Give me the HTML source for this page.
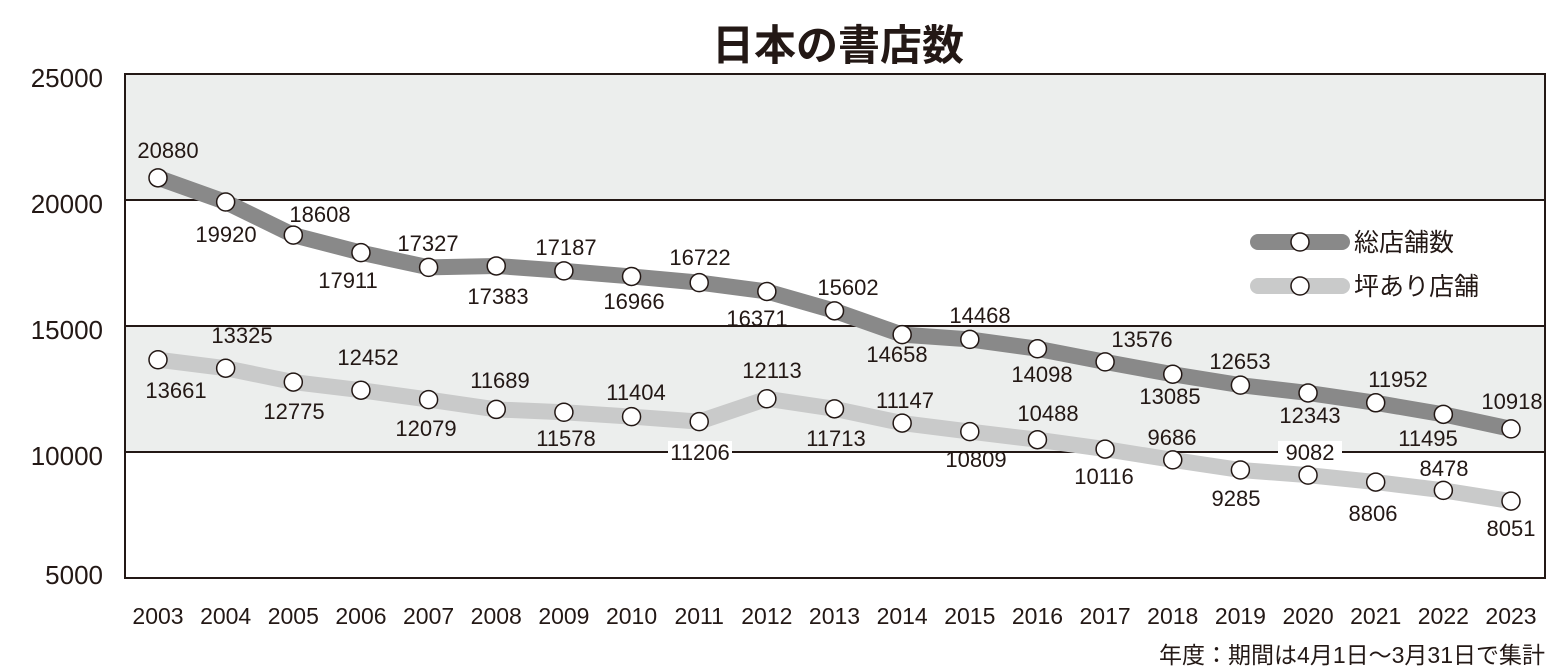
<!DOCTYPE html>
<html><head><meta charset="utf-8"><style>
html,body{margin:0;padding:0;background:#fff;}
svg{display:block;font-family:"Liberation Sans","Noto Sans CJK JP",sans-serif;}
</style></head><body>
<svg width="1555" height="669" viewBox="0 0 1555 669">
<rect x="125" y="74" width="1420" height="126" fill="#eceeed"/>
<rect x="125" y="326" width="1420" height="126" fill="#eceeed"/>
<g stroke="#231815" stroke-width="2" fill="none">
<rect x="125" y="74" width="1420" height="504"/>
<line x1="125" y1="200" x2="1545" y2="200"/>
<line x1="125" y1="326" x2="1545" y2="326"/>
<line x1="125" y1="452" x2="1545" y2="452"/>
</g>
<text x="838" y="60" text-anchor="middle" font-size="42" font-weight="bold" fill="#231815">日本の書店数</text>
<g font-size="26" fill="#231815" text-anchor="end">
<text x="103" y="87">25000</text><text x="103" y="213">20000</text><text x="103" y="339">15000</text><text x="103" y="465">10000</text><text x="103" y="584">5000</text>
</g>
<g id="years" font-size="23" fill="#231815" text-anchor="middle"></g>
<text x="1545" y="663" text-anchor="end" font-size="23" fill="#231815">年度：期間は4月1日～3月31日で集計</text>
<polyline id="dark" fill="none" stroke="#898989" stroke-width="16" stroke-linejoin="round" stroke-linecap="round"/>
<polyline id="light" fill="none" stroke="#c9caca" stroke-width="16" stroke-linejoin="round" stroke-linecap="round"/>
<g id="marks"></g>
<g id="labels" font-size="22" fill="#231815" text-anchor="middle"></g>
<line x1="1258" y1="242" x2="1342" y2="242" stroke="#898989" stroke-width="16" stroke-linecap="round"/>
<line x1="1258" y1="286" x2="1342" y2="286" stroke="#c9caca" stroke-width="16" stroke-linecap="round"/>
<circle cx="1300" cy="242" r="9" fill="#fff" stroke="#231815" stroke-width="1.5"/>
<circle cx="1300" cy="286" r="9" fill="#fff" stroke="#231815" stroke-width="1.5"/>
<text x="1354" y="251" font-size="25" fill="#231815">総店舗数</text>
<text x="1354" y="295" font-size="25" fill="#231815">坪あり店舗</text>
</svg>
<script>
var ns="http://www.w3.org/2000/svg";
var d=[20880,19920,18608,17911,17327,17383,17187,16966,16722,16371,15602,14658,14468,14098,13576,13085,12653,12343,11952,11495,10918];
var l=[13661,13325,12775,12452,12079,11689,11578,11404,11206,12113,11713,11147,10809,10488,10116,9686,9285,9082,8806,8478,8051];
var dl=[[168,150],[226,234],[320,214],[348,280],[428,243],[498,296],[566,247],[634,301],[700,257],[757,318],[848,287],[897,354],[980,315],[1042,374],[1142,339],[1170,396],[1240,361],[1310,415],[1398,379],[1428,438],[1512,401]];
var ll=[[176,390],[242,335],[294,411],[368,357],[426,428],[500,380],[566,438],[636,392],[700,452],[772,370],[836,438],[905,400],[976,459],[1048,413],[1104,476],[1172,437],[1236,498],[1310,452],[1373,513],[1444,468],[1511,528]];
function X(i){return 158+i*67.65;}
function Y(v){return 578-(v-5000)*126/5000;}
var pd=[],pl=[];
var yrs=document.getElementById('years'),mk=document.getElementById('marks'),lb=document.getElementById('labels');
for(var i=0;i<21;i++){
 pd.push(X(i)+","+Y(d[i]));pl.push(X(i)+","+Y(l[i]));
 var t=document.createElementNS(ns,'text');t.setAttribute('x',X(i));t.setAttribute('y',624);t.textContent=2003+i;yrs.appendChild(t);
 [[d[i]],[l[i]]].forEach(function(a){var c=document.createElementNS(ns,'circle');c.setAttribute('cx',X(i));c.setAttribute('cy',Y(a[0]));c.setAttribute('r',9);c.setAttribute('fill','#fff');c.setAttribute('stroke','#231815');c.setAttribute('stroke-width',1.5);mk.appendChild(c);});
 [[dl[i],d[i]],[ll[i],l[i]]].forEach(function(a){
  if(a[1]==11206||a[1]==9082){var r=document.createElementNS(ns,'rect');r.setAttribute('x',a[0][0]-32);r.setAttribute('y',a[0][1]-11);r.setAttribute('width',64);r.setAttribute('height',22);r.setAttribute('fill','#fff');lb.appendChild(r);}
  var t=document.createElementNS(ns,'text');t.setAttribute('x',a[0][0]);t.setAttribute('y',a[0][1]+8);t.textContent=a[1];lb.appendChild(t);});
}
document.getElementById('dark').setAttribute('points',pd.join(' '));
document.getElementById('light').setAttribute('points',pl.join(' '));
</script>
</body></html>
